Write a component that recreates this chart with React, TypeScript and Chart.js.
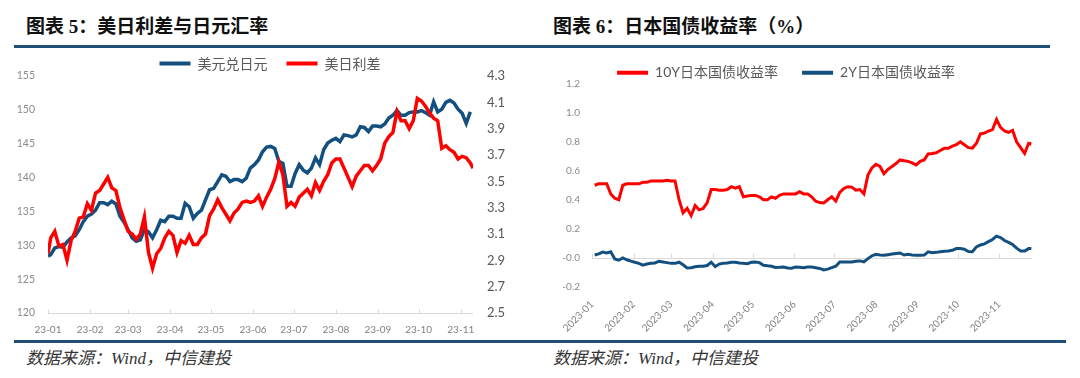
import React, { useEffect, useRef } from 'react';
import { Chart, registerables } from 'chart.js';

Chart.register(...registerables);

// ---------- Data: chart 5 (USD/JPY and US-JP spread) ----------
const leftDates = [
  '2023-01-01', '2023-01-03', '2023-01-06', '2023-01-09', '2023-01-12', '2023-01-15', '2023-01-18', '2023-01-21', '2023-01-24', '2023-01-27', '2023-01-30',
  '2023-02-02', '2023-02-05', '2023-02-08', '2023-02-11', '2023-02-14', '2023-02-17', '2023-02-20', '2023-02-23', '2023-02-26',
  '2023-03-01', '2023-03-04', '2023-03-07', '2023-03-10', '2023-03-13', '2023-03-16', '2023-03-19', '2023-03-22', '2023-03-25', '2023-03-28', '2023-03-31',
  '2023-04-03', '2023-04-06', '2023-04-09', '2023-04-12', '2023-04-15', '2023-04-18', '2023-04-21', '2023-04-24', '2023-04-27', '2023-04-30',
  '2023-05-03', '2023-05-06', '2023-05-09', '2023-05-12', '2023-05-15', '2023-05-18', '2023-05-21', '2023-05-24', '2023-05-27', '2023-05-30',
  '2023-06-02', '2023-06-05', '2023-06-08', '2023-06-11', '2023-06-14', '2023-06-17', '2023-06-20', '2023-06-23', '2023-06-26', '2023-06-29',
  '2023-07-02', '2023-07-05', '2023-07-08', '2023-07-11', '2023-07-14', '2023-07-17', '2023-07-20', '2023-07-23', '2023-07-26', '2023-07-29',
  '2023-08-01', '2023-08-04', '2023-08-07', '2023-08-10', '2023-08-13', '2023-08-16', '2023-08-19', '2023-08-22', '2023-08-25', '2023-08-28', '2023-08-31',
  '2023-09-03', '2023-09-06', '2023-09-09', '2023-09-12', '2023-09-15', '2023-09-18', '2023-09-21', '2023-09-24', '2023-09-27', '2023-09-30',
  '2023-10-03', '2023-10-06', '2023-10-09', '2023-10-12', '2023-10-15', '2023-10-18', '2023-10-21', '2023-10-24', '2023-10-27', '2023-10-30',
  '2023-11-02', '2023-11-05', '2023-11-08', '2023-11-10',
];

const usdJpy: (number | null)[] = [
  128.4, 128.6, 129.6, 129.8, 129.7, 130.5, 131.1, 131.4, 132.3, 133.5, 134.3,
  134.6, 135.2, 136.3, 136.3, 136.0, 136.5, 136.1, 134.3, 133.4,
  132.3, 131.1, 130.6, 130.8, 132.3, 132.0, 131.1, 132.3, 133.7, 133.5, 134.3,
  134.3, 134.0, 134.0, 136.2, 135.7, 134.0, 134.7, 135.2, 136.7, 138.2,
  138.4, 139.4, 140.4, 140.2, 139.4, 139.7, 139.7, 139.4, 139.9, 141.4,
  141.9, 142.6, 143.8, 144.5, 144.6, 144.3, 142.4, 142.1, 138.7, 138.7,
  140.6, 141.9, 141.1, 140.7, 141.4, 142.9, 141.9, 144.1, 145.1, 145.5,
  145.8, 145.3, 146.3, 146.2, 146.0, 146.3, 147.5, 147.4, 146.8, 147.6, 147.6,
  147.5, 147.9, 148.8, 149.2, 149.9, 149.2, 149.2, 149.6, 149.7, 149.7,
  149.9, 149.6, 149.2, 151.2, 149.7, 150.1, 151.1, 151.4, 151.0, 150.1,
  149.5, 148.0, 149.7, null,
];

const usJpSpread = [
  2.95, 3.07, 3.12, 3.01, 3.02, 2.90, 3.05, 3.12, 3.22, 3.23, 3.33,
  3.28, 3.41, 3.43, 3.48, 3.53, 3.45, 3.43, 3.30, 3.21,
  3.12, 3.10, 3.06, 3.10, 3.23, 2.96, 2.84, 2.95, 2.99, 3.07, 3.12,
  3.09, 2.96, 3.05, 3.03, 3.09, 3.02, 3.02, 3.07, 3.10, 3.24,
  3.29, 3.36, 3.30, 3.25, 3.20, 3.26, 3.29, 3.34, 3.35, 3.34,
  3.35, 3.39, 3.31, 3.38, 3.44, 3.52, 3.645, 3.55, 3.31, 3.34,
  3.31, 3.38, 3.41, 3.44, 3.39, 3.49, 3.43, 3.50, 3.55, 3.64,
  3.67, 3.67, 3.60, 3.53, 3.46, 3.54, 3.58, 3.62, 3.62, 3.58, 3.62,
  3.67, 3.79, 3.84, 3.87, 4.03, 3.96, 3.96, 3.90, 3.96, 4.13,
  4.11, 4.07, 4.02, 3.98, 3.96, 3.75, 3.77, 3.74, 3.72, 3.67,
  3.69, 3.68, 3.64, 3.60,
];

const leftMonthLabels = ['23-01', '23-02', '23-03', '23-04', '23-05', '23-06', '23-07', '23-08', '23-09', '23-10', '23-11'];

// ---------- Data: chart 6 (JGB yields) ----------
const rightDates = [
  '2023-01-03', '2023-01-06', '2023-01-09', '2023-01-12', '2023-01-15', '2023-01-18', '2023-01-21', '2023-01-24', '2023-01-27', '2023-01-30',
  '2023-02-02', '2023-02-05', '2023-02-08', '2023-02-11', '2023-02-14', '2023-02-17', '2023-02-20', '2023-02-23', '2023-02-26',
  '2023-03-01', '2023-03-04', '2023-03-07', '2023-03-10', '2023-03-13', '2023-03-16', '2023-03-19', '2023-03-22', '2023-03-25', '2023-03-28', '2023-03-31',
  '2023-04-03', '2023-04-06', '2023-04-09', '2023-04-12', '2023-04-15', '2023-04-18', '2023-04-21', '2023-04-24', '2023-04-27', '2023-04-30',
  '2023-05-03', '2023-05-06', '2023-05-09', '2023-05-12', '2023-05-15', '2023-05-18', '2023-05-21', '2023-05-24', '2023-05-27', '2023-05-30',
  '2023-06-02', '2023-06-05', '2023-06-08', '2023-06-11', '2023-06-14', '2023-06-17', '2023-06-20', '2023-06-23', '2023-06-26', '2023-06-29',
  '2023-07-02', '2023-07-05', '2023-07-08', '2023-07-11', '2023-07-14', '2023-07-17', '2023-07-20', '2023-07-23', '2023-07-26', '2023-07-29',
  '2023-08-01', '2023-08-04', '2023-08-07', '2023-08-10', '2023-08-13', '2023-08-16', '2023-08-19', '2023-08-22', '2023-08-25', '2023-08-28', '2023-08-31',
  '2023-09-03', '2023-09-06', '2023-09-09', '2023-09-12', '2023-09-15', '2023-09-18', '2023-09-21', '2023-09-24', '2023-09-27', '2023-09-30',
  '2023-10-03', '2023-10-06', '2023-10-09', '2023-10-12', '2023-10-15', '2023-10-18', '2023-10-21', '2023-10-24', '2023-10-27', '2023-10-30',
  '2023-11-02', '2023-11-05', '2023-11-08',
  '2023-11-11', '2023-11-14', '2023-11-17', '2023-11-20', '2023-11-23', '2023-11-25',
];

const jgb10y = [
  0.50, 0.51, 0.51, 0.51, 0.44, 0.41, 0.40, 0.50, 0.51, 0.51,
  0.51, 0.51, 0.52, 0.52, 0.53, 0.53, 0.53, 0.53, 0.535,
  0.53, 0.53, 0.40, 0.31, 0.34, 0.29, 0.36, 0.33, 0.34, 0.38, 0.47,
  0.47, 0.465, 0.465, 0.47, 0.49, 0.48, 0.49, 0.42, 0.425, 0.43,
  0.43, 0.42, 0.40, 0.40, 0.42, 0.41, 0.43, 0.44, 0.44, 0.44,
  0.44, 0.455, 0.44, 0.44, 0.42, 0.39, 0.38, 0.378, 0.40, 0.42,
  0.39, 0.45, 0.478, 0.49, 0.487, 0.466, 0.47, 0.44, 0.57, 0.62,
  0.645, 0.63, 0.58, 0.61, 0.63, 0.65, 0.675, 0.67, 0.665, 0.655, 0.64,
  0.665, 0.675, 0.716, 0.72, 0.725, 0.74, 0.755, 0.755, 0.77, 0.78,
  0.80, 0.78, 0.76, 0.757, 0.79, 0.855, 0.86, 0.875, 0.885, 0.955,
  0.90, 0.875, 0.865,
  0.88, 0.80, 0.76, 0.72, 0.79, 0.785,
];

const jgb2y = [
  0.018, 0.025, 0.038, 0.032, 0.04, -0.01, -0.018, -0.002, -0.015, -0.025,
  -0.032, -0.04, -0.052, -0.045, -0.04, -0.037, -0.025, -0.03, -0.035,
  -0.04, -0.04, -0.032, -0.05, -0.072, -0.07, -0.063, -0.06, -0.06, -0.055, -0.032,
  -0.062, -0.045, -0.04, -0.037, -0.033, -0.032, -0.037, -0.04, -0.042, -0.033,
  -0.03, -0.035, -0.053, -0.057, -0.06, -0.068, -0.067, -0.065, -0.072, -0.074,
  -0.066, -0.067, -0.07, -0.066, -0.066, -0.07, -0.075, -0.085, -0.08, -0.07,
  -0.06, -0.03, -0.03, -0.03, -0.03, -0.025, -0.023, -0.03, -0.007, 0.012,
  0.022, 0.018, 0.016, 0.02, 0.024, 0.028, 0.032, 0.018, 0.022, 0.018, 0.016,
  0.016, 0.017, 0.04, 0.033, 0.036, 0.04, 0.043, 0.046, 0.05, 0.062,
  0.062, 0.058, 0.042, 0.04, 0.074, 0.087, 0.095, 0.11, 0.125, 0.148,
  0.138, 0.118, 0.105,
  0.09, 0.065, 0.045, 0.045, 0.062, 0.062,
];

const rightMonthLabels = ['2023-01', '2023-02', '2023-03', '2023-04', '2023-05', '2023-06', '2023-07', '2023-08', '2023-09', '2023-10', '2023-11'];

const monthStarts = ['2023-01-01', '2023-02-01', '2023-03-01', '2023-04-01', '2023-05-01', '2023-06-01', '2023-07-01', '2023-08-01', '2023-09-01', '2023-10-01', '2023-11-01'];

// ---------- helpers ----------
const BLUE = '#13507f';
const RED = '#ff0000';
const FONT = 'Lato, "Noto Sans CJK SC", sans-serif';
const CJK = '"Noto Sans CJK SC", sans-serif';

function dayIndex(s: string): number {
  const [y, m, d] = s.split('-').map(Number);
  return (Date.UTC(y, m - 1, d) - Date.UTC(2023, 0, 1)) / 86400000;
}
const monthStartDays = monthStarts.map(dayIndex);

function axisLinePlugin(yScaleId: string, yValue: number, tickLen: number) {
  return {
    id: 'axisLine',
    beforeDatasetsDraw(chart: any) {
      const { ctx, chartArea, scales } = chart;
      const xs = scales.x;
      const py = Math.round(scales[yScaleId].getPixelForValue(yValue)) + 0.5;
      ctx.save();
      ctx.strokeStyle = '#d9d9d9';
      ctx.lineWidth = 1;
      ctx.beginPath();
      ctx.moveTo(chartArea.left, py);
      ctx.lineTo(chartArea.right, py);
      monthStartDays.forEach((v) => {
        const px = Math.round(xs.getPixelForValue(v)) + 0.5;
        ctx.moveTo(px, py);
        ctx.lineTo(px, py - tickLen);
      });
      ctx.stroke();
      ctx.restore();
    },
  };
}

const legendLabels = (chart: any) =>
  (Chart.defaults.plugins.legend.labels as any)
    .generateLabels(chart)
    .map((l: any) => ({ ...l, lineWidth: 0 }));

function LeftChart() {
  const ref = useRef<HTMLCanvasElement>(null);
  useEffect(() => {
    const chart = new Chart(ref.current as HTMLCanvasElement, {
      type: 'line',
      data: {
        datasets: [
          {
            label: '美元兑日元',
            data: leftDates.map((d, i) => ({ x: dayIndex(d), y: usdJpy[i] })),
            borderColor: BLUE,
            backgroundColor: BLUE,
            borderWidth: 3.5,
            pointRadius: 0,
            yAxisID: 'y',
            order: 1,
          },
          {
            label: '美日利差',
            data: leftDates.map((d, i) => ({ x: dayIndex(d), y: usJpSpread[i] })),
            borderColor: RED,
            backgroundColor: RED,
            borderWidth: 3.5,
            pointRadius: 0,
            yAxisID: 'y1',
            order: 0,
          },
        ],
      } as any,
      options: {
        responsive: false,
        animation: false,
        layout: { padding: { top: 1.5, left: 0, right: 0, bottom: 0 } },
        plugins: {
          tooltip: { enabled: false },
          legend: {
            position: 'top',
            maxHeight: 38.5,
            labels: {
              boxWidth: 31,
              boxHeight: 4,
              padding: 19,
              color: '#595959',
              font: { size: 14, family: CJK },
              generateLabels: legendLabels,
              sort: (a: any, b: any) => a.datasetIndex - b.datasetIndex,
            },
          } as any,
        },
        scales: {
          x: {
            type: 'linear',
            min: 0,
            max: 313,
            grid: { display: false },
            border: { display: false },
            afterBuildTicks: (s: any) => {
              s.ticks = monthStartDays.map((v) => ({ value: v }));
            },
            afterFit: (s: any) => {
              s.height = 27;
            },
            ticks: {
              autoSkip: false,
              maxRotation: 0,
              padding: 3,
              color: '#808080',
              font: { size: 10, family: FONT },
              callback: (v: any) => {
                const i = monthStartDays.indexOf(Number(v));
                return i >= 0 ? leftMonthLabels[i] : '';
              },
            },
          },
          y: {
            position: 'left',
            min: 120,
            max: 155,
            grid: { display: false },
            border: { display: false },
            afterFit: (s: any) => {
              s.width = 48;
            },
            ticks: { stepSize: 5, padding: 5, color: '#8c8c8c', font: { size: 10.5, family: FONT } },
          },
          y1: {
            position: 'right',
            min: 2.5,
            max: 4.3,
            grid: { display: false },
            border: { display: false },
            afterFit: (s: any) => {
              s.width = 67;
            },
            ticks: {
              stepSize: 0.2,
              padding: 6,
              color: '#595959',
              font: { size: 13, family: FONT },
              callback: (v: any) => Number(v).toFixed(1),
            },
          },
        },
      } as any,
      plugins: [axisLinePlugin('y', 120, 4)],
    });
    return () => chart.destroy();
  }, []);
  return (
    <canvas
      ref={ref}
      width={540}
      height={304}
      style={{ position: 'absolute', left: 0, top: 36, width: 540, height: 304 }}
    />
  );
}

function RightChart() {
  const ref = useRef<HTMLCanvasElement>(null);
  useEffect(() => {
    const chart = new Chart(ref.current as HTMLCanvasElement, {
      type: 'line',
      data: {
        datasets: [
          {
            label: '10Y日本国债收益率',
            data: rightDates.map((d, i) => ({ x: dayIndex(d), y: jgb10y[i] })),
            borderColor: RED,
            backgroundColor: RED,
            borderWidth: 3,
            pointRadius: 0,
          },
          {
            label: '2Y日本国债收益率',
            data: rightDates.map((d, i) => ({ x: dayIndex(d), y: jgb2y[i] })),
            borderColor: BLUE,
            backgroundColor: BLUE,
            borderWidth: 3,
            pointRadius: 0,
          },
        ],
      } as any,
      options: {
        responsive: false,
        animation: false,
        layout: { padding: { top: 1.7, left: 0, right: 28, bottom: 0 } },
        plugins: {
          tooltip: { enabled: false },
          legend: {
            position: 'top',
            maxHeight: 42.3,
            labels: {
              boxWidth: 31,
              boxHeight: 4,
              padding: 24,
              color: '#595959',
              font: { size: 14, family: FONT },
              generateLabels: legendLabels,
            },
          } as any,
        },
        scales: {
          x: {
            type: 'linear',
            min: 0,
            max: 328.5,
            grid: { display: false },
            border: { display: false },
            afterBuildTicks: (s: any) => {
              s.ticks = monthStartDays.map((v) => ({ value: v }));
            },
            afterFit: (s: any) => {
              s.height = 53.5;
            },
            ticks: {
              autoSkip: false,
              minRotation: 45,
              maxRotation: 45,
              padding: 4,
              color: '#808080',
              font: { size: 10, family: FONT },
              callback: (v: any) => {
                const i = monthStartDays.indexOf(Number(v));
                return i >= 0 ? rightMonthLabels[i] : '';
              },
            },
          },
          y: {
            min: -0.2,
            max: 1.2,
            grid: { display: false },
            border: { display: false },
            afterFit: (s: any) => {
              s.width = 52;
            },
            ticks: {
              stepSize: 0.2,
              padding: 4,
              color: '#8c8c8c',
              font: { size: 10, family: FONT },
              callback: (v: any) => Number(v).toFixed(1),
            },
          },
        },
      } as any,
      plugins: [axisLinePlugin('y', 0, 5)],
    });
    return () => chart.destroy();
  }, []);
  return (
    <canvas
      ref={ref}
      width={520}
      height={300}
      style={{ position: 'absolute', left: 540, top: 40, width: 520, height: 300 }}
    />
  );
}

const titleStyle: React.CSSProperties = {
  position: 'absolute',
  top: 17,
  fontFamily: '"Liberation Serif", "Noto Sans CJK SC", serif',
  fontWeight: 700,
  fontSize: 19,
  lineHeight: '20px',
  color: '#111',
  whiteSpace: 'nowrap',
};

const sourceStyle: React.CSSProperties = {
  position: 'absolute',
  top: 349,
  fontFamily: '"Liberation Serif", "Noto Sans CJK SC", serif',
  fontStyle: 'italic',
  fontSize: 17,
  lineHeight: '19px',
  color: '#333',
  whiteSpace: 'nowrap',
};

export default function App() {
  return (
    <div
      style={{
        position: 'fixed',
        left: 0,
        top: 0,
        width: 1080,
        height: 378,
        background: '#fff',
        overflow: 'hidden',
      }}
    >
      <div style={{ ...titleStyle, left: 26 }}>图表 5：美日利差与日元汇率</div>
      <div style={{ ...titleStyle, left: 553 }}>图表 6：日本国债收益率（%）</div>
      <div style={{ position: 'absolute', left: 14, top: 45, width: 1036, height: 3, background: '#1f4e79' }} />
      <LeftChart />
      <RightChart />
      <div style={{ position: 'absolute', left: 14, top: 340, width: 1052, height: 3, background: '#1f4e79' }} />
      <div style={{ ...sourceStyle, left: 26 }}>数据来源：Wind，中信建投</div>
      <div style={{ ...sourceStyle, left: 553 }}>数据来源：Wind，中信建投</div>
    </div>
  );
}
